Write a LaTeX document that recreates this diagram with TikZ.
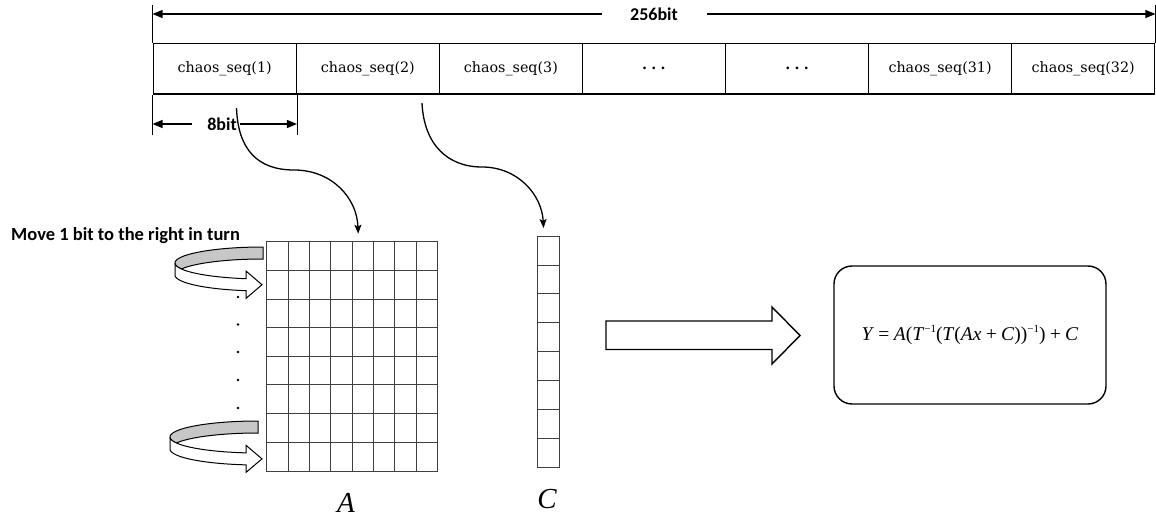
\documentclass[tikz,border=0pt]{standalone}
\usepackage{fontspec}
\setmainfont{Liberation Serif}
\newfontfamily\cellfont{DejaVu Serif}
\newfontfamily\boldsans{Carlito}
\usetikzlibrary{arrows.meta,calc}

% curled ribbon arrow: centre x, centre y of the upper rim, end angle of the front band, tip x
\newcommand\drawribbon[4]{%
  \pgfmathsetmacro\rxe{#1+88*cos(#3)}%
  \pgfmathsetmacro\rye{#2+16*sin(#3)}%
  \filldraw[ribback] plot[domain=270:158,samples=40] ({#1+88*cos(\x)},{#2+16*sin(\x)})
     -- plot[domain=202:270,samples=30] ({#1+88*cos(\x)},{#2+12+16*sin(\x)}) -- cycle;
  \filldraw[ribfront] plot[domain=180:#3,samples=40] ({#1+88*cos(\x)},{#2+16*sin(\x)})
     -- (\rxe,\rye-7.5) -- (#4,\rye+6) -- (\rxe,\rye+19.5) -- (\rxe,\rye+12)
     -- plot[domain=#3:180,samples=40] ({#1+88*cos(\x)},{#2+12+16*sin(\x)}) -- cycle;
}
\newcommand\cellgap{\textbf{.\hspace{0.3em}.\hspace{0.3em}.}}
\newcommand\supm{\raisebox{0.8ex}{\fontsize{11}{11}\selectfont −1}}

\begin{document}
\begin{tikzpicture}[x=1pt,y=-1pt,
  cellbox/.style={draw,line width=1.4pt,minimum width=143.07pt,minimum height=50.6pt,
    inner sep=0pt,anchor=north west,font=\cellfont\fontsize{14.3}{15}\selectfont},
  dimlabel/.style={inner sep=0pt,font=\boldsans\bfseries\fontsize{18}{18}\selectfont},
  dimline/.style={line width=1.2pt,-{Triangle[length=10pt,width=8pt]}},
  tickline/.style={line width=0.8pt},
  gridline/.style={line width=0.8pt,draw=black!75},
  curvearrow/.style={line width=1.3pt,-{Stealth[length=9pt,width=7pt,inset=2pt]}},
  ribback/.style={fill=black!22,draw=black,line width=1pt},
  ribfront/.style={fill=white,draw=black,line width=1pt},
  bigarrow/.style={fill=white,draw=black,line width=1.4pt,line join=miter},
  maxlabel/.style={inner sep=0pt,font=\itshape\fontsize{29}{29}\selectfont}
]
\useasboundingbox (0,0) rectangle (1156,519);

% the 256-bit key split into 32 chaotic bytes
\foreach \t [count=\i] in {{chaos\_seq(1)},{chaos\_seq(2)},{chaos\_seq(3)},{\cellgap},{\cellgap},{chaos\_seq(31)},{chaos\_seq(32)}}
  \node[cellbox] (c\i) at ({152.5+143.07*(\i-1)},42.7) {\t};

% overall width
\node[dimlabel] (w256) at (654,14) {256bit};
\draw[tickline] (c1.north west) -- ++(0,-38);
\draw[tickline] (c7.north east) -- ++(0,-38);
\draw[dimline] ($(w256.west)+(-28,0)$) -- (c1.north west |- w256.west);
\draw[dimline] ($(w256.east)+(29,0)$) -- (c7.north east |- w256.east);

% one byte
\node[dimlabel] (w8) at (222,124) {8bit};
\draw[tickline] (c1.south west) -- ++(0,40);
\draw[tickline] (c1.south east) -- ++(0,40);
\draw[dimline] ($(w8.west)+(-15,0)$) -- (c1.south west |- w8.west);
\draw[dimline] ($(w8.east)+(3,0)$) -- (c1.south east |- w8.east);

% matrix A (8 x 8)
\node[inner sep=0pt,minimum width=170.6pt,minimum height=229pt,anchor=north west] (A) at (266.7,241.7) {};
\draw[gridline] (A.north west) rectangle (A.south east);
\foreach \k in {1,2,3,4,5,6,7} {
  \draw[gridline] ($(A.north west)+(\k*21.325,0)$) -- ($(A.south west)+(\k*21.325,0)$);
  \draw[gridline] ($(A.north west)+(0,\k*28.625)$) -- ($(A.north east)+(0,\k*28.625)$);
}
\node[maxlabel] (labA) at (346,503) {A};

% vector C (8 x 1)
\node[inner sep=0pt,minimum width=22pt,minimum height=231.3pt,anchor=north west] (Cv) at (537.3,236) {};
\draw[gridline] (Cv.north west) rectangle (Cv.south east);
\foreach \k in {1,2,3,4,5,6,7}
  \draw[gridline] ($(Cv.north west)+(0,\k*28.91)$) -- ($(Cv.north east)+(0,\k*28.91)$);
\node[maxlabel] (labC) at (547,499) {C};

% bytes feeding A and C
\coordinate (s1) at (236.5,108);
\coordinate (s2) at (422,103);
\draw[curvearrow] (s1) .. controls (238,150) and (258,170) .. (294,170)
  .. controls (332,170) and (357,198) .. ($(A.north)+(6,-8)$);
\draw[curvearrow] (s2) .. controls (424,145) and (448,167) .. (482,167)
  .. controls (518,167) and (542,195) .. ($(Cv.north)+(-5,-8)$);

% row rotation
\node[inner sep=0pt,anchor=west,font=\boldsans\bfseries\fontsize{18.5}{18.5}\selectfont] (movelbl) at (11,236) {Move 1 bit to the right in turn};
\drawribbon{263}{263}{101}{262}
\drawribbon{258}{437}{97.8}{262}
\foreach \yy in {297,324.5,352,380,408}
  \fill (238,\yy) circle (1.3);

% transformation result
\draw[bigarrow] (606,321) -- (772,321) -- (772,307) -- (800,335.5) -- (772,364) -- (772,349.5) -- (606,349.5) -- cycle;
\node[draw,line width=1.4pt,rounded corners=18pt,minimum width=272pt,minimum height=138pt,
  font=\fontsize{19.5}{20}\selectfont] (F) at (970,335)
  {\textit{Y}\:=\:\textit{A}(\textit{T}\supm(\textit{T}(\textit{Ax}\:+\:\textit{C}))\supm)\:+\:\textit{C}};
\end{tikzpicture}
\end{document}
